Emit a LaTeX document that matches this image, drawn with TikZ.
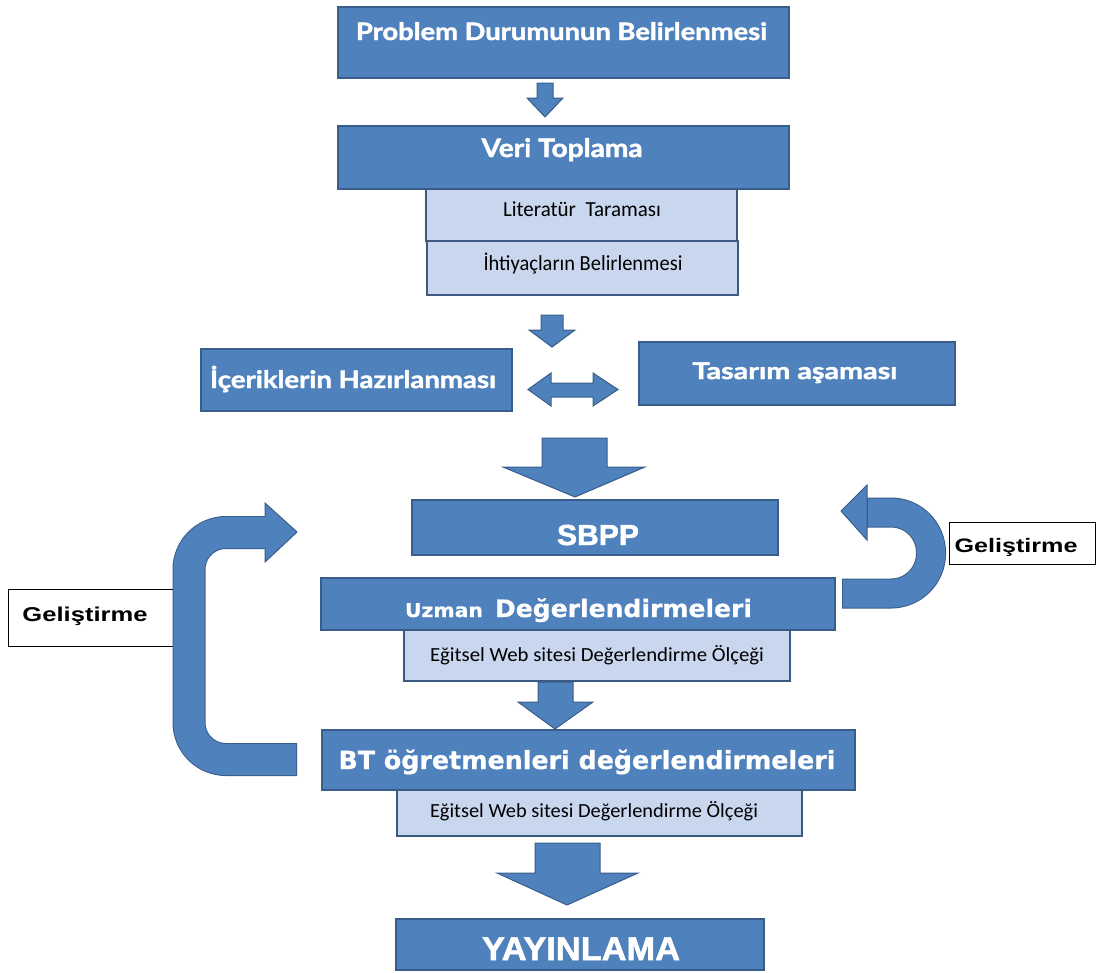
\documentclass[tikz,border=0pt]{standalone}
\usepackage{fontspec}
\usepackage{graphicx}
\setmainfont{Carlito}
\newfontfamily\latof{Lato}[BoldFeatures={FakeBold=1.6}]
\newfontfamily\arialf{Liberation Sans}[BoldFeatures={FakeBold=1.6}]
\newfontfamily\arialg{Liberation Sans}
\newfontfamily\verdf{DejaVu Sans}[BoldFeatures={FakeBold=0.6}]
\newcommand{\fitw}[2]{\resizebox{#1pt}{\height}{#2}}
\definecolor{boxblue}{HTML}{4F81BD}
\definecolor{boxline}{HTML}{385D8A}
\definecolor{subfill}{HTML}{C8D7EE}
\definecolor{subline}{HTML}{3B5A82}
\begin{document}
\begin{tikzpicture}[x=1pt,y=-1pt,
  bluebox/.style={draw=boxline, line width=1.5pt, fill=boxblue, inner sep=0pt},
  subbox/.style={draw=subline, line width=1.5pt, fill=subfill, inner sep=0pt},
  whitebox/.style={draw=black, line width=1pt, fill=white, inner sep=0pt},
  lbl/.style={inner sep=0pt, anchor=base},
  wlbl/.style={lbl, text=white},
  blockarrow/.style={fill=boxblue, draw=boxline, line width=1pt, line join=miter},
]
\useasboundingbox (0,0) rectangle (1097,972);

% boxes
\node[bluebox, minimum width=451pt, minimum height=71pt] (b1) at (563.5,42.5) {};
\node[bluebox, minimum width=451pt, minimum height=63pt] (b2) at (563.5,157.5) {};
\node[subbox, minimum width=311pt, minimum height=52pt] (s1) at (581.5,215) {};
\node[subbox, minimum width=311pt, minimum height=54pt] (s2) at (582.5,268) {};
\node[bluebox, minimum width=311pt, minimum height=62pt] (b3) at (356.5,380) {};
\node[bluebox, minimum width=316pt, minimum height=63pt] (b4) at (797,373.5) {};
\node[bluebox, minimum width=366pt, minimum height=55pt] (b5) at (595,527.5) {};
\node[bluebox, minimum width=514pt, minimum height=52pt] (b6) at (578,604) {};
\node[subbox, minimum width=386pt, minimum height=51pt] (s3) at (597,655.5) {};
\node[bluebox, minimum width=533pt, minimum height=60pt] (b7) at (588.5,760) {};
\node[subbox, minimum width=405pt, minimum height=46pt] (s4) at (599.5,813) {};
\node[bluebox, minimum width=368pt, minimum height=51pt] (b8) at (580,944.5) {};
\node[whitebox, minimum width=166pt, minimum height=57pt] (g1) at (91,617.5) {};
\node[whitebox, minimum width=146pt, minimum height=42pt] (g2) at (1022,543) {};

% texts
\node[wlbl] (t1) at (561.5,40) {\fitw{411}{\latof\bfseries\fontsize{24}{24}\selectfont Problem Durumunun Belirlenmesi}};
\node[wlbl] (t2) at (562,157) {\fitw{161}{\latof\bfseries\fontsize{25.5}{25.5}\selectfont Veri Toplama}};
\node[lbl] (t3) at (582,216) {\fitw{158}{\fontsize{21.5}{21.5}\selectfont Literatür\ \ Taraması}};
\node[lbl] (t4) at (583,270) {\fitw{199}{\fontsize{21.5}{21.5}\selectfont İhtiyaçların Belirlenmesi}};
\node[wlbl] (t5) at (353,388) {\fitw{286}{\latof\bfseries\fontsize{24}{24}\selectfont İçeriklerin Hazırlanması}};
\node[wlbl] (t6) at (795,379) {\fitw{205}{\latof\bfseries\fontsize{23}{23}\selectfont Tasarım aşaması}};
\node[wlbl] (t7) at (598,545) {\fitw{82}{\arialf\bfseries\fontsize{29}{29}\selectfont SBPP}};
\node[wlbl] (t8) at (578.5,617) {\fitw{78}{\verdf\bfseries\fontsize{19}{19}\selectfont Uzman}\hspace{12pt}\fitw{257}{\verdf\bfseries\fontsize{24}{24}\selectfont Değerlendirmeleri}};
\node[lbl] (t9) at (597,661) {\fitw{334}{\fontsize{20}{20}\selectfont Eğitsel Web sitesi Değerlendirme Ölçeği}};
\node[wlbl] (t10) at (587,769) {\fitw{497}{\verdf\bfseries\fontsize{25}{25}\selectfont BT öğretmenleri değerlendirmeleri}};
\node[lbl] (t11) at (594,817) {\fitw{328}{\fontsize{20}{20}\selectfont Eğitsel Web sitesi Değerlendirme Ölçeği}};
\node[wlbl] (t12) at (581,960) {\fitw{198}{\arialf\bfseries\fontsize{33}{33}\selectfont YAYINLAMA}};
\node[lbl] (t13) at (85,621) {\fitw{125}{\arialg\bfseries\fontsize{20}{20}\selectfont Geliştirme}};
\node[lbl] (t14) at (1016,552) {\fitw{123}{\arialg\bfseries\fontsize{19.5}{19.5}\selectfont Geliştirme}};

% straight block arrows
\filldraw[blockarrow] (537,83) -- (553,83) -- (553,98) -- (563,98) -- (545,117) -- (527,98) -- (537,98) -- cycle;
\filldraw[blockarrow] (541,315) -- (563,315) -- (563,330) -- (575,330) -- (552,347) -- (529,330) -- (541,330) -- cycle;
\filldraw[blockarrow] (528,389.5) -- (551,373) -- (551,383) -- (593,383) -- (593,373) -- (618,389.5) -- (593,406) -- (593,397) -- (551,397) -- (551,406) -- cycle;
\filldraw[blockarrow] (542,438) -- (607,438) -- (607,467) -- (645,467) -- (575,497) -- (503,467) -- (542,467) -- cycle;
\filldraw[blockarrow] (538,682) -- (573,682) -- (573,702) -- (593,702) -- (555,729) -- (518,702) -- (538,702) -- cycle;
\filldraw[blockarrow] (535,843) -- (600,843) -- (600,873) -- (638,873) -- (567,905) -- (497,873) -- (535,873) -- cycle;

% left curved arrow (Geliştirme loop)
\draw[boxline, line width=33pt, rounded corners=37pt] (297,759.5) -- (189,759.5) -- (189,532.5) -- (266,532.5);
\filldraw[blockarrow] (265,503) -- (297,532) -- (265,562) -- cycle;
\draw[boxblue, line width=31pt, rounded corners=37pt] (296,759.5) -- (189,759.5) -- (189,532.5) -- (267,532.5);

% right U-turn arrow
\draw[boxline, line width=30pt, rounded corners=40pt] (842,593.5) -- (931,593.5) -- (931,512.5) -- (866,512.5);
\filldraw[blockarrow] (867,485) -- (841,511) -- (867,540) -- cycle;
\draw[boxblue, line width=28pt, rounded corners=40pt] (843,593.5) -- (931,593.5) -- (931,512.5) -- (868,512.5);
\end{tikzpicture}
\end{document}
